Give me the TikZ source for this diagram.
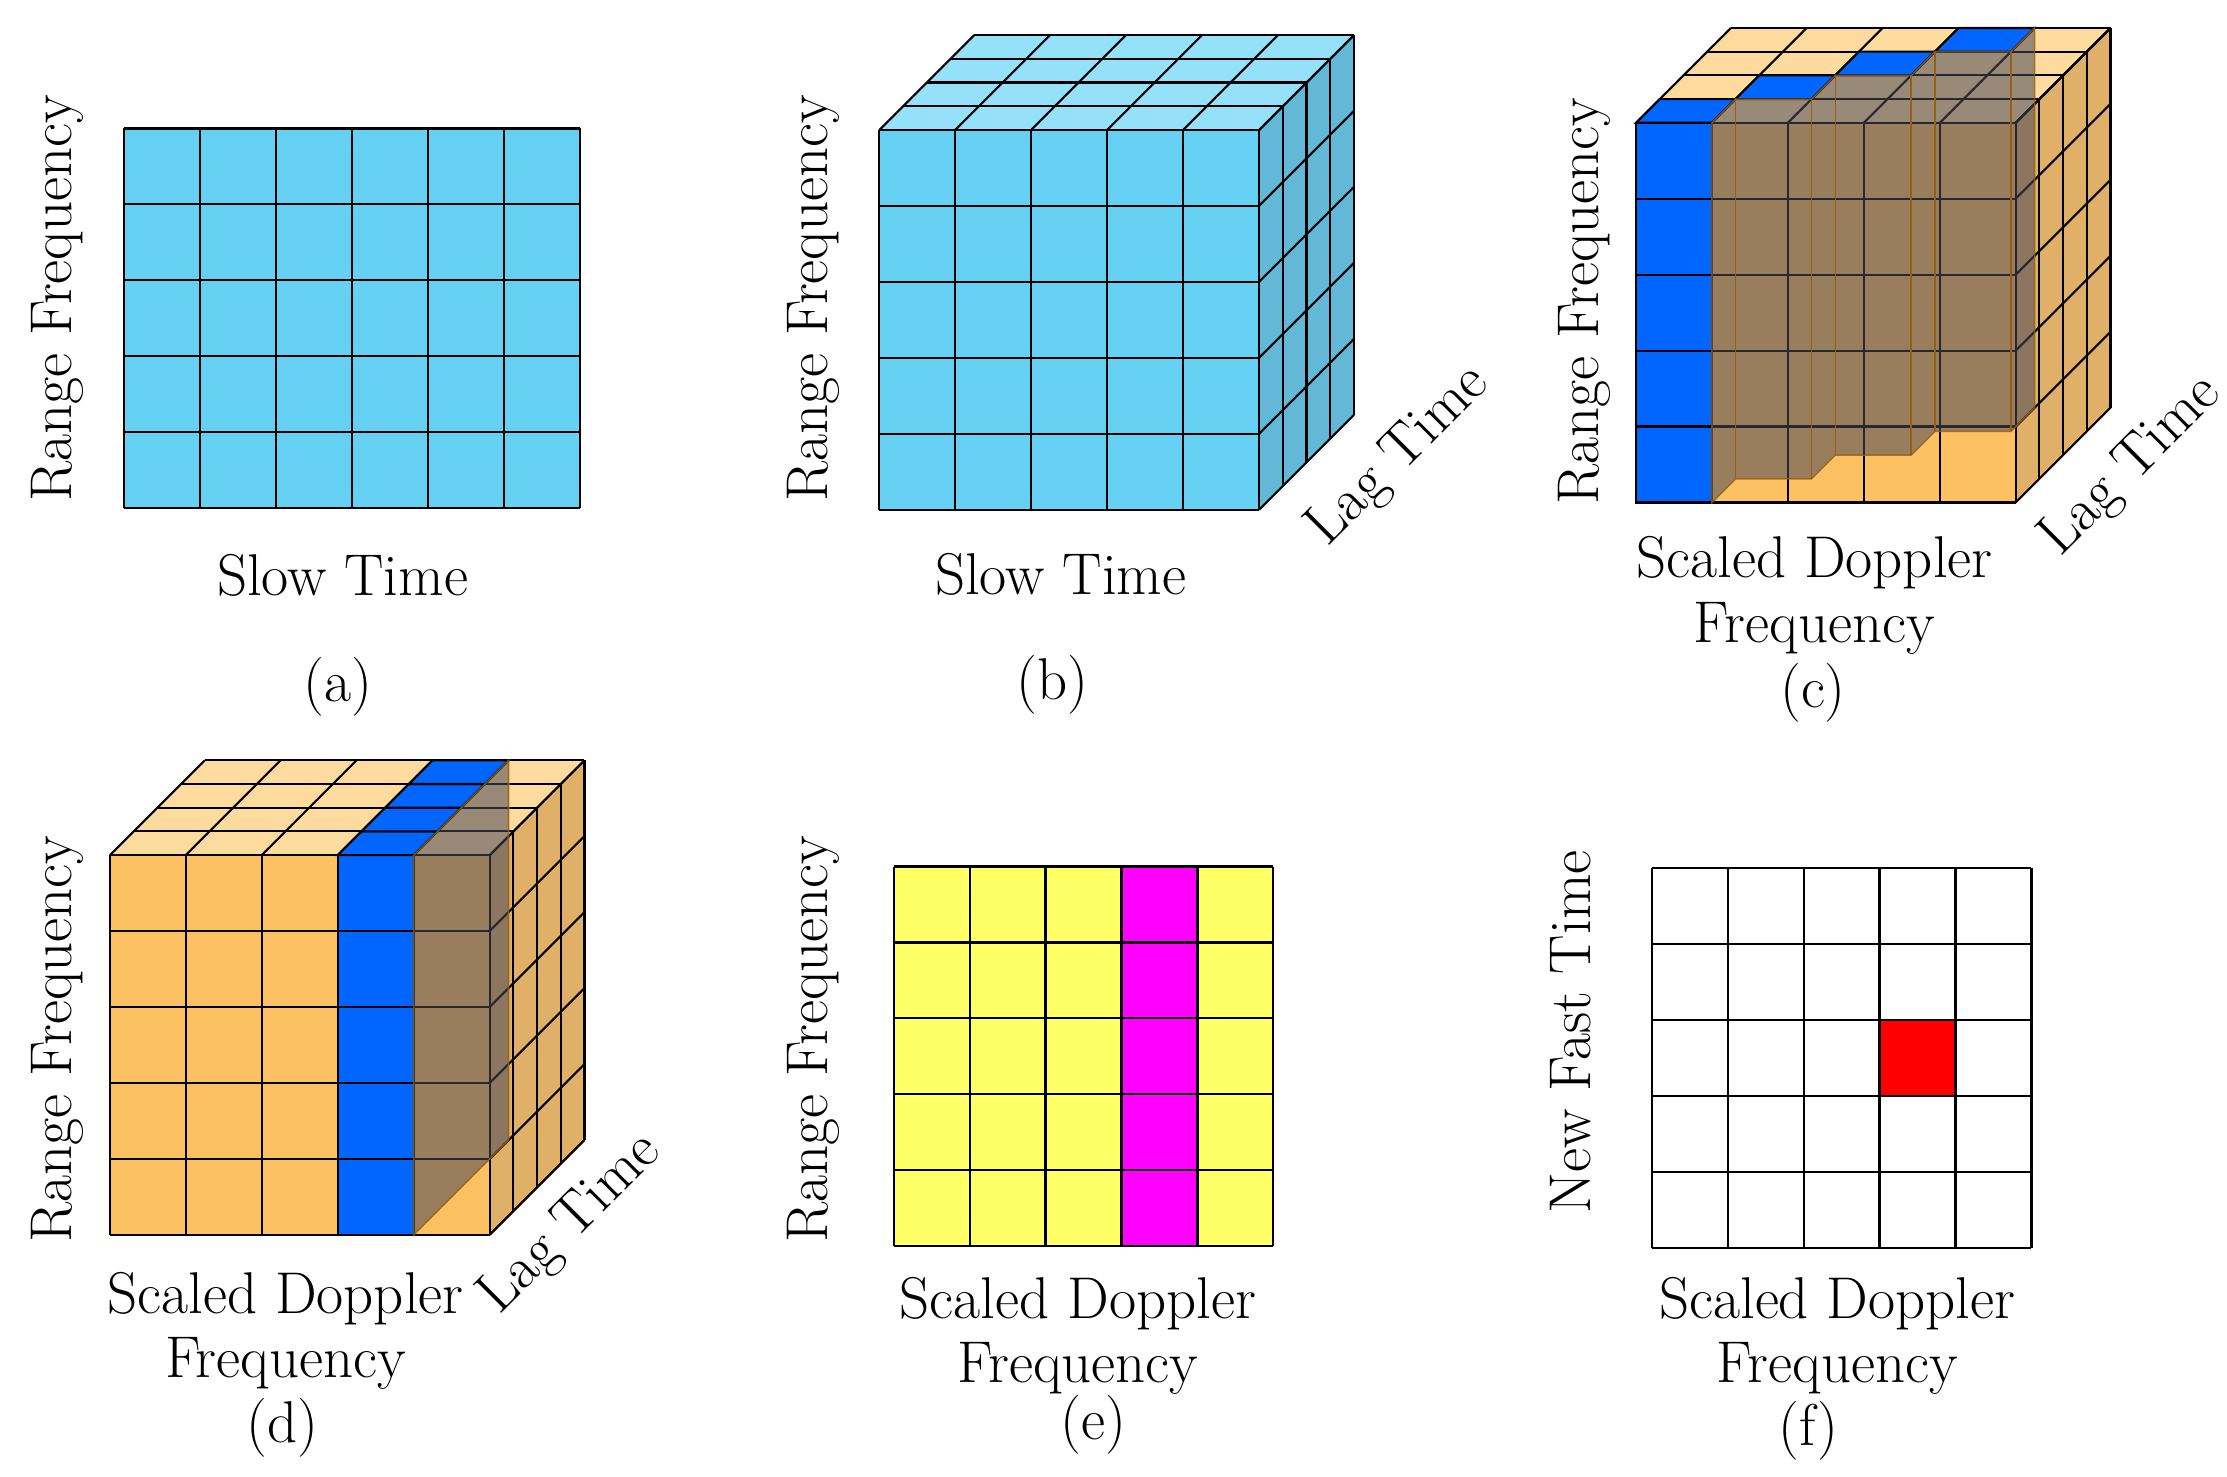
\documentclass[tikz,border=0pt]{standalone}
\usetikzlibrary{positioning}

\definecolor{skyfront}{RGB}{102,208,243}
\definecolor{skytop}{RGB}{150,225,250}
\definecolor{skyside}{RGB}{98,184,214}
\definecolor{ambfront}{RGB}{253,193,100}
\definecolor{ambtop}{RGB}{253,218,158}
\definecolor{ambside}{RGB}{224,176,104}
\definecolor{slab}{RGB}{0,102,255}
\definecolor{veil}{RGB}{72,72,88}
\definecolor{veiledge}{RGB}{150,95,20}
\definecolor{lemon}{RGB}{255,255,102}
\definecolor{fuchsia}{RGB}{255,0,255}
\definecolor{hotcell}{RGB}{255,0,0}

\newcommand{\cellsz}{53.2}
\newcommand{\lagstep}{16.6}

% flat grid: columns, rows, colour
\newcommand{\FlatGrid}[3]{
  \fill[#3] (0,0) rectangle ++(#1*\cellsz,#2*\cellsz);
  \foreach \i in {0,...,#1} \draw[gridline] (\i*\cellsz,0) -- ++(0,#2*\cellsz);
  \foreach \j in {0,...,#2} \draw[gridline] (0,\j*\cellsz) -- ++(#1*\cellsz,0);
}

% 5x5 front with 4 lag layers: front, top, side colours
\newcommand{\LagCube}[3]{
  \fill[#2] (0,0) -- ++(5*\cellsz,0) -- ++(4*\lagstep,-4*\lagstep) -- ++(-5*\cellsz,0) -- cycle;
  \fill[#3] (5*\cellsz,0) -- ++(4*\lagstep,-4*\lagstep) -- ++(0,5*\cellsz) -- ++(-4*\lagstep,4*\lagstep) -- cycle;
  \foreach \k in {0,...,4} {
    \draw[gridline] (\k*\lagstep,-\k*\lagstep) -- ++(5*\cellsz,0);
    \draw[gridline] (5*\cellsz+\k*\lagstep,-\k*\lagstep) -- ++(0,5*\cellsz);
  }
  \foreach \i in {0,...,5} {
    \draw[gridline] (\i*\cellsz,0) -- ++(4*\lagstep,-4*\lagstep);
    \draw[gridline] (5*\cellsz,\i*\cellsz) -- ++(4*\lagstep,-4*\lagstep);
  }
  \FlatGrid{5}{5}{#1}
}

\begin{document}
\begin{tikzpicture}[x=0.02cm, y=-0.02cm,
    gridline/.style={draw=black, line width=0.85pt},
    lbl/.style={font=\fontsize{23.5}{25.6}\selectfont, inner sep=0pt, align=center},
    veiled/.style={fill=veil, fill opacity=0.55, draw=veiledge, draw opacity=0.8, line width=0.6pt}]

    \useasboundingbox (0,0) rectangle (1560,1034);

    % (a) slow time grid
    \begin{scope}[shift={(87,90)}]
        \FlatGrid{6}{5}{skyfront}
    \end{scope}
    \draw(40,209) node[lbl, rotate=90] (rfa) {Range Frequency};
    \draw(240,403) node[lbl] (sta) {Slow Time};
    \draw(237,481) node[lbl] (capa) {(a)};

    % (b) lag cube
    \begin{scope}[shift={(616,91)}]
        \LagCube{skyfront}{skytop}{skyside}
    \end{scope}
    \draw(570,209) node[lbl, rotate=90] (rfb) {Range Frequency};
    \draw(743,402) node[lbl] (stb) {Slow Time};
    \draw(980,320) node[lbl, rotate=45] (ltb) {Lag Time};
    \draw(737,480) node[lbl] (capb) {(b)};

    % (c) diagonal slice
    \begin{scope}[shift={(1146,86)}]
        \LagCube{ambfront}{ambtop}{ambside}
        \foreach \j in {0,...,4}
            \draw[gridline, fill=slab] (0,\j*\cellsz) rectangle ++(\cellsz,\cellsz);
        \foreach \k in {0,...,3}
            \draw[gridline, fill=slab] (\k*\cellsz+\k*\lagstep,-\k*\lagstep) -- ++(\cellsz,0)
                -- ++(\lagstep,-\lagstep) -- ++(-\cellsz,0) -- cycle;
        \path[veiled] (\cellsz,0) -- ++(\lagstep,-\lagstep) -- ++(\cellsz,0) -- ++(\lagstep,-\lagstep)
            -- ++(\cellsz,0) -- ++(\lagstep,-\lagstep) -- ++(\cellsz,0) -- ++(\lagstep,-\lagstep)
            -- ++(0,5*\cellsz) -- ++(-\lagstep,\lagstep) -- ++(-\cellsz,0) -- ++(-\lagstep,\lagstep)
            -- ++(-\cellsz,0) -- ++(-\lagstep,\lagstep) -- ++(-\cellsz,0) -- ++(-\lagstep,\lagstep) -- cycle;
        \foreach \a/\b in {1/1, 2/1, 2/2, 3/2, 3/3, 4/3}
            \draw[veiledge, line width=0.6pt] (\a*\cellsz+\b*\lagstep,-\b*\lagstep) -- ++(0,5*\cellsz);
    \end{scope}
    \draw(1110,211) node[lbl, rotate=90] (rfc) {Range Frequency};
    \draw(1271,417) node[lbl] (sdc) {Scaled Doppler\\Frequency};
    \draw(1493,327) node[lbl, rotate=45] (ltc) {Lag Time};
    \draw(1270,485) node[lbl] (capc) {(c)};

    % (d) one doppler bin
    \begin{scope}[shift={(77,599)}]
        \LagCube{ambfront}{ambtop}{ambside}
        \foreach \j in {0,...,4}
            \draw[gridline, fill=slab] (3*\cellsz,\j*\cellsz) rectangle ++(\cellsz,\cellsz);
        \foreach \k in {0,...,3}
            \draw[gridline, fill=slab] (3*\cellsz+\k*\lagstep,-\k*\lagstep) -- ++(\cellsz,0)
                -- ++(\lagstep,-\lagstep) -- ++(-\cellsz,0) -- cycle;
        \path[veiled] (4*\cellsz,0) -- ++(4*\lagstep,-4*\lagstep) -- ++(0,5*\cellsz)
            -- ++(-4*\lagstep,4*\lagstep) -- cycle;
    \end{scope}
    \draw(40,728) node[lbl, rotate=90] (rfd) {Range Frequency};
    \draw(200,932) node[lbl] (sdd) {Scaled Doppler\\Frequency};
    \draw(400,858) node[lbl, rotate=45] (ltd) {Lag Time};
    \draw(198,1000) node[lbl] (capd) {(d)};

    % (e) range vs doppler
    \begin{scope}[shift={(626,607)}]
        \fill[lemon] (0,0) rectangle ++(5*\cellsz,5*\cellsz);
        \fill[fuchsia] (3*\cellsz,0) rectangle ++(\cellsz,5*\cellsz);
        \FlatGrid{5}{5}{lemon, fill opacity=0}
    \end{scope}
    \draw(570,728) node[lbl, rotate=90] (rfe) {Range Frequency};
    \draw(755,936) node[lbl] (sde) {Scaled Doppler\\Frequency};
    \draw(766,998) node[lbl] (cape) {(e)};

    % (f) new fast time
    \begin{scope}[shift={(1157,608)}]
        \FlatGrid{5}{5}{white}
        \draw[gridline, fill=hotcell] (3*\cellsz,2*\cellsz) rectangle ++(\cellsz,\cellsz);
    \end{scope}
    \draw(1100,723) node[lbl, rotate=90] (nft) {New Fast Time};
    \draw(1287,936) node[lbl] (sdf) {Scaled Doppler\\Frequency};
    \draw(1267,1002) node[lbl] (capf) {(f)};

\end{tikzpicture}
\end{document}
